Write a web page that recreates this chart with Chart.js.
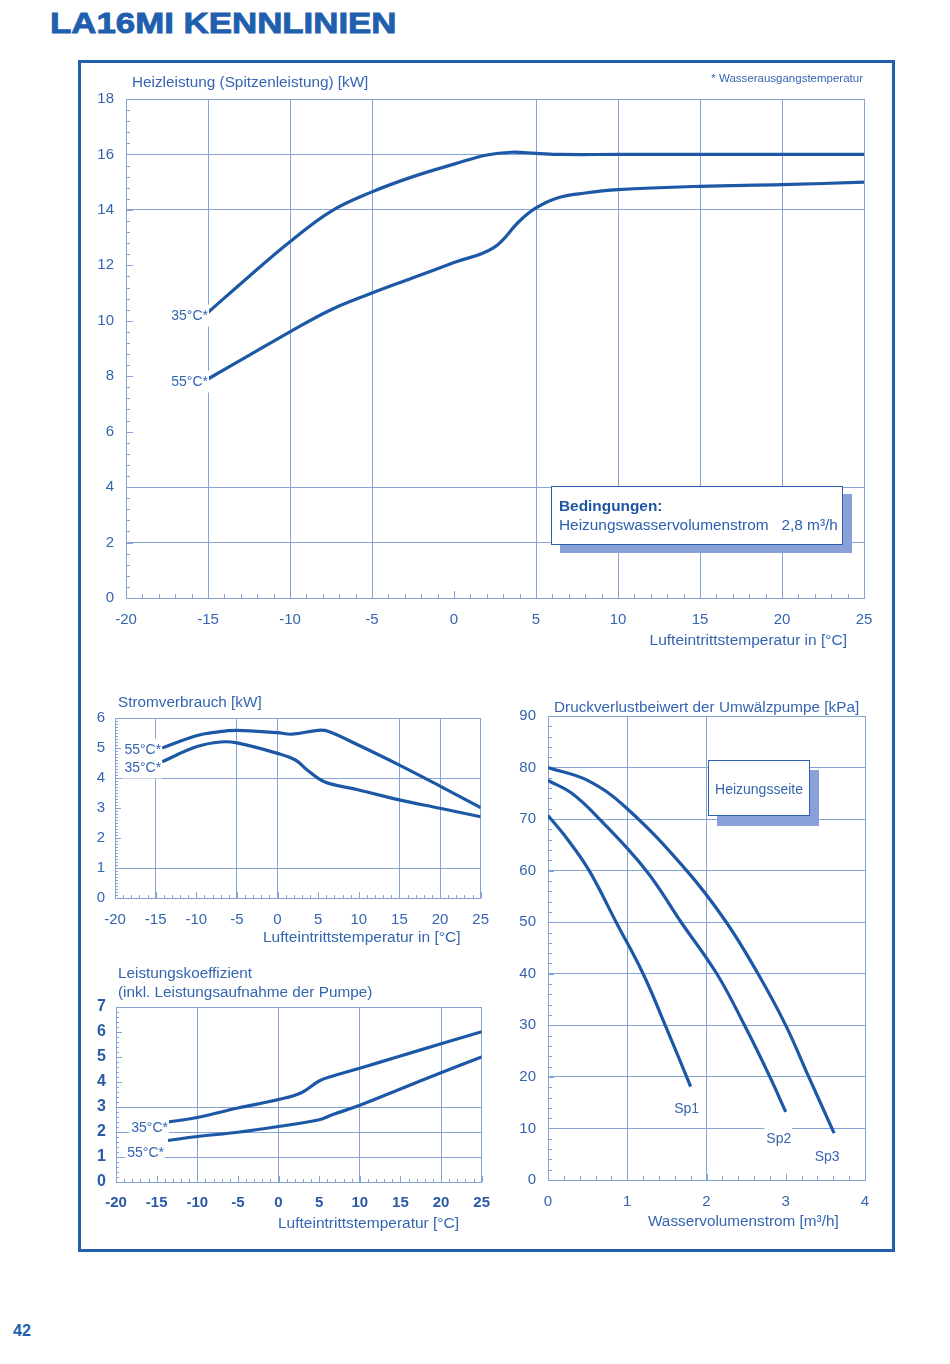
<!DOCTYPE html>
<html lang="de">
<head>
<meta charset="utf-8">
<title>LA16MI Kennlinien</title>
<script src="https://cdn.jsdelivr.net/npm/chart.js@4.4.1/dist/chart.umd.min.js"></script>
<style>
  body { margin: 0; background: #fff; }
  #page { position: relative; width: 950px; height: 1364px; overflow: hidden; }
  .txt { position: absolute; white-space: nowrap; line-height: 1; color: #3565b1;
         font-family: "Liberation Sans", Arial, sans-serif; font-size: 15.3px; }
  canvas { position: absolute; }
  #frame { position: absolute; left: 78px; top: 60px; width: 817px; height: 1192px;
           box-sizing: border-box; border: 3px solid #1f5fae; }
  .box { position: absolute; background: #fff; border: 1px solid #2a62b0; box-sizing: border-box; }
  #title { left: 50px; top: 7.6px; font-weight: bold; font-size: 30.3px; color: #1f5fae;
           transform: scaleX(1.15); transform-origin: 0 0; -webkit-text-stroke: 0.9px #1f5fae; }
</style>
</head>
<body>
<div id="page">
  <div id="title" class="txt">LA16MI KENNLINIEN</div>
  <div id="frame"></div>

  <canvas id="cHeiz" width="812" height="600" style="left:80px;top:62px"></canvas>
  <canvas id="cStrom" width="420" height="275" style="left:82px;top:680px"></canvas>
  <canvas id="cCop" width="420" height="290" style="left:82px;top:955px"></canvas>
  <canvas id="cDruck" width="385" height="565" style="left:505px;top:680px"></canvas>

  <div class="txt" style="left:132px;top:74.3px">Heizleistung (Spitzenleistung) [kW]</div>
  <div class="txt" style="right:87px;top:73.1px;font-size:11.5px">* Wasserausgangstemperatur</div>
  <div class="txt" style="right:103px;top:632.4px;font-size:15.5px">Lufteintrittstemperatur in [°C]</div>

  <div class="box" style="left:551px;top:486px;width:292px;height:59px;box-shadow:9px 8px 0 #8aa0d8"></div>
  <div class="txt" style="left:559px;top:497.5px;font-size:15.4px;font-weight:bold;color:#1f56a3">Bedingungen:</div>
  <div class="txt" style="left:559px;top:516.5px;font-size:15.4px;color:#2c5fae">Heizungswasservolumenstrom&nbsp;&nbsp;&nbsp;2,8 m³/h</div>

  <div class="txt" style="left:118px;top:693.5px">Stromverbrauch [kW]</div>
  <div class="txt" style="left:263px;top:929.4px;font-size:15.5px">Lufteintrittstemperatur in [°C]</div>

  <div class="txt" style="left:118px;top:964.5px">Leistungskoeffizient</div>
  <div class="txt" style="left:118px;top:983.5px">(inkl. Leistungsaufnahme der Pumpe)</div>
  <div class="txt" style="left:278px;top:1214.5px;font-size:15.5px">Lufteintrittstemperatur [°C]</div>

  <div class="txt" style="left:554px;top:698.5px">Druckverlustbeiwert der Umwälzpumpe [kPa]</div>
  <div class="txt" style="left:648px;top:1212.5px">Wasservolumenstrom [m³/h]</div>
  <div class="box" style="left:708px;top:760px;width:102px;height:56px;box-shadow:9px 10px 0 #8aa0d8"></div>
  <div class="txt" style="left:759px;top:782px;font-size:14px;transform:translateX(-50%)">Heizungsseite</div>

  <div class="txt" style="left:13px;top:1322px;font-size:16.2px;font-weight:bold;color:#1f5fae">42</div>
</div>

<script>
// Heizleistung (Spitzenleistung) [kW] über Lufteintrittstemperatur [°C]
const heizX35 = [-15, -12.5, -10, -7.5, -5, -2.5, 0, 2, 3.5, 5, 6.5, 10, 15, 20, 25];
const heizY35 = [10.3, 11.6, 12.85, 13.95, 14.65, 15.2, 15.65, 15.98, 16.08, 16.04, 16.0, 16.0, 16.0, 16.0, 16.0];
const heizX55 = [-15, -12.5, -10, -7.5, -5, -2.5, 0, 2.4, 4, 5, 6.3, 8, 10, 15, 20, 25];
const heizY55 = [7.9, 8.75, 9.6, 10.4, 11.0, 11.55, 12.1, 12.63, 13.6, 14.07, 14.43, 14.61, 14.73, 14.85, 14.91, 15.0];

// Stromverbrauch [kW]
const stromX55 = [-14.2, -10, -7.5, -5, 0, 1.8, 5, 6.3, 10, 15, 20, 25];
const stromY55 = [5.0, 5.41, 5.53, 5.59, 5.51, 5.46, 5.59, 5.55, 5.09, 4.43, 3.73, 3.01];
const stromX35 = [-14.2, -10, -7, -5, 0, 2.2, 3.5, 5, 6.3, 10, 15, 20, 25];
const stromY35 = [4.54, 5.04, 5.2, 5.17, 4.82, 4.6, 4.3, 3.99, 3.82, 3.6, 3.27, 2.99, 2.71];

// Leistungskoeffizient (inkl. Pumpe)
const copX35 = [-13.6, -10, -5, 0, 2.8, 5, 6.4, 10, 15, 20, 25];
const copY35 = [2.4, 2.58, 2.96, 3.3, 3.57, 4.04, 4.21, 4.55, 5.04, 5.53, 6.01];
const copX55 = [-13.6, -10, -5, 0, 5, 6.6, 10, 15, 20, 25];
const copY55 = [1.66, 1.82, 1.99, 2.22, 2.49, 2.69, 3.07, 3.72, 4.37, 5.0];

// Druckverlustbeiwert der Umwälzpumpe [kPa] über Wasservolumenstrom [m³/h]
const sp1X = [0, 0.25, 0.52, 0.86, 1.2, 1.48, 1.8];
const sp1Y = [70.7, 66, 60, 50, 40, 30, 18.1];
const sp2X = [0, 0.3, 0.65, 1.24, 1.68, 2.13, 2.48, 2.8, 3.0];
const sp2Y = [77.5, 75, 70, 60, 50, 40, 30, 20, 13.2];
const sp3X = [0, 0.5, 1.0, 1.75, 2.25, 2.65, 3.0, 3.29, 3.61];
const sp3Y = [80, 77.5, 72, 60, 50, 40, 30, 20, 9.1];

// which tick values get a grid line (the sheet leaves some out)
const heizGridX = [-15, -10, -5, 5, 10, 15, 20, 25];
const heizGridY = [2, 4, 14, 16, 18];
const stromGridX = [-15, -5, 0, 15, 20, 25];
const stromGridY = [1, 4, 6];
const copGridX = [-10, 0, 10, 20, 25];
const copGridY = [1, 2, 3, 7];
const druckGridX = [1, 2, 4];
const druckGridY = [10, 20, 30, 40, 50, 60, 70, 80, 90];

const CURVE = '#1c58a6';
const GRID = '#86a3d6';
const TICK = '#3565b1';
const FONT = '"Liberation Sans", Arial, sans-serif';

const gridAt = vals => c =>
  (c.tick && vals.some(v => Math.abs(v - c.tick.value) < 1e-6)) ? GRID : 'rgba(0,0,0,0)';

// minor ticks along the axes + curve labels with white background
const decoPlugin = {
  id: 'deco',
  beforeDatasetsDraw(chart, args, opts) {
    const { ctx, chartArea: a, scales: { x, y } } = chart;
    const isMajor = (s, v) => s.ticks.some(t => Math.abs(t.value - v) < 1e-6);
    ctx.save();
    ctx.strokeStyle = GRID;
    ctx.lineWidth = 1;
    ctx.beginPath();
    let n = Math.round((x.max - x.min) / opts.minorX);
    for (let i = 0; i <= n; i++) {
      const v = x.min + i * opts.minorX;
      const px = Math.round(x.getPixelForValue(v)) + 0.5;
      ctx.moveTo(px, a.bottom);
      ctx.lineTo(px, a.bottom - (isMajor(x, v) ? opts.major : opts.minor));
    }
    n = Math.round((y.max - y.min) / opts.minorY);
    for (let i = 0; i <= n; i++) {
      const v = y.min + i * opts.minorY;
      const py = Math.round(y.getPixelForValue(v)) + 0.5;
      ctx.moveTo(a.left, py);
      ctx.lineTo(a.left + (isMajor(y, v) ? opts.major : opts.minor), py);
    }
    ctx.stroke();
    ctx.restore();
  },
  afterDatasetsDraw(chart, args, opts) {
    const { ctx, scales: { x, y } } = chart;
    ctx.save();
    ctx.font = '14px ' + FONT;
    ctx.textBaseline = 'middle';
    (opts.labels || []).forEach(l => {
      const pts = chart.data.datasets[l.ds].data;
      const p = l.at === 'last' ? pts[pts.length - 1] : pts[0];
      const px = x.getPixelForValue(p.x) + l.dx;
      const py = y.getPixelForValue(p.y) + l.dy;
      const w = ctx.measureText(l.text).width;
      const left = l.align === 'center' ? px - w / 2 : px - w;
      ctx.fillStyle = '#fff';
      ctx.fillRect(left - 2, py - 11, w + 3, 22);
      ctx.fillStyle = TICK;
      ctx.textAlign = 'left';
      ctx.fillText(l.text, left, py + 1);
    });
    ctx.restore();
  }
};

function makeChart(id, cfg) {
  return new Chart(document.getElementById(id), {
    type: 'line',
    data: {
      datasets: cfg.series.map(s => ({
        data: s.x.map((xv, i) => ({ x: xv, y: s.y[i] })),
        borderColor: CURVE,
        borderWidth: 3.2,
        pointRadius: 0,
        fill: false,
        tension: 0.4
      }))
    },
    options: {
      responsive: false,
      animation: false,
      devicePixelRatio: 1,
      layout: { padding: cfg.padding },
      plugins: {
        legend: { display: false },
        tooltip: { enabled: false },
        deco: cfg.deco
      },
      scales: {
        x: {
          type: 'linear', min: cfg.x.min, max: cfg.x.max,
          ticks: { stepSize: cfg.x.step, padding: cfg.x.pad, color: cfg.tickColor || TICK,
                   font: { family: FONT, size: 15, weight: cfg.tickWeight || 'normal' } },
          grid: { color: gridAt(cfg.x.grid), drawTicks: false, lineWidth: 1 },
          border: { color: GRID, width: 1 },
          afterFit: s => { s.height = cfg.x.size; }
        },
        y: {
          type: 'linear', min: cfg.y.min, max: cfg.y.max,
          ticks: { stepSize: cfg.y.step, padding: cfg.y.pad, color: cfg.tickColor || TICK,
                   font: { family: FONT, size: cfg.y.font || 15, weight: cfg.tickWeight || 'normal' } },
          grid: { color: gridAt(cfg.y.grid), drawTicks: false, lineWidth: 1 },
          border: { color: GRID, width: 1 },
          afterFit: s => { s.width = cfg.y.size; }
        }
      }
    },
    plugins: [decoPlugin]
  });
}

makeChart('cHeiz', {
  series: [{ x: heizX35, y: heizY35 }, { x: heizX55, y: heizY55 }],
  padding: { top: 37, right: 28, left: 0, bottom: 0 },
  x: { min: -20, max: 25, step: 5, pad: 13, grid: heizGridX, size: 64 },
  y: { min: 0, max: 18, step: 2, pad: 12, grid: heizGridY, size: 46 },
  deco: {
    minorX: 1, minorY: 0.4, minor: 4, major: 7,
    labels: [
      { ds: 0, text: '35°C*', dx: 0, dy: 3 },
      { ds: 1, text: '55°C*', dx: 0, dy: 2.5 }
    ]
  }
});

makeChart('cStrom', {
  series: [{ x: stromX55, y: stromY55 }, { x: stromX35, y: stromY35 }],
  padding: { top: 38, right: 15, left: 0, bottom: 0 },
  x: { min: -20, max: 25, step: 5, pad: 13, grid: stromGridX, size: 57 },
  y: { min: 0, max: 6, step: 1, pad: 10, grid: stromGridY, size: 33 },
  deco: {
    minorX: 1, minorY: 0.1, minor: 3, major: 6,
    labels: [
      { ds: 0, text: '55°C*', dx: -1, dy: 1.5 },
      { ds: 1, text: '35°C*', dx: -1, dy: 5.7 }
    ]
  }
});

makeChart('cCop', {
  series: [{ x: copX35, y: copY35 }, { x: copX55, y: copY55 }],
  padding: { top: 52, right: 17, left: 0, bottom: 0 },
  tickColor: '#2a5aa6', tickWeight: 'bold',
  x: { min: -20, max: 25, step: 5, pad: 12, grid: copGridX, size: 63 },
  y: { min: 0, max: 7, step: 1, pad: 10, grid: copGridY, size: 34, font: 16 },
  deco: {
    minorX: 1, minorY: 0.2, minor: 3, major: 6,
    labels: [
      { ds: 0, text: '35°C*', dx: 0, dy: 5 },
      { ds: 1, text: '55°C*', dx: -4, dy: 12 }
    ]
  }
});

makeChart('cDruck', {
  series: [{ x: sp1X, y: sp1Y }, { x: sp2X, y: sp2Y }, { x: sp3X, y: sp3Y }],
  padding: { top: 36, right: 25, left: 0, bottom: 0 },
  x: { min: 0, max: 4, step: 1, pad: 13, grid: druckGridX, size: 65 },
  y: { min: 0, max: 90, step: 10, pad: 12, grid: druckGridY, size: 43 },
  deco: {
    minorX: 0.2, minorY: 2, minor: 4, major: 6,
    labels: [
      { ds: 0, at: 'last', text: 'Sp1', dx: -4, dy: 21, align: 'center' },
      { ds: 1, at: 'last', text: 'Sp2', dx: -7, dy: 26, align: 'center' },
      { ds: 2, at: 'last', text: 'Sp3', dx: -7, dy: 23, align: 'center' }
    ]
  }
});
</script>
</body>
</html>
